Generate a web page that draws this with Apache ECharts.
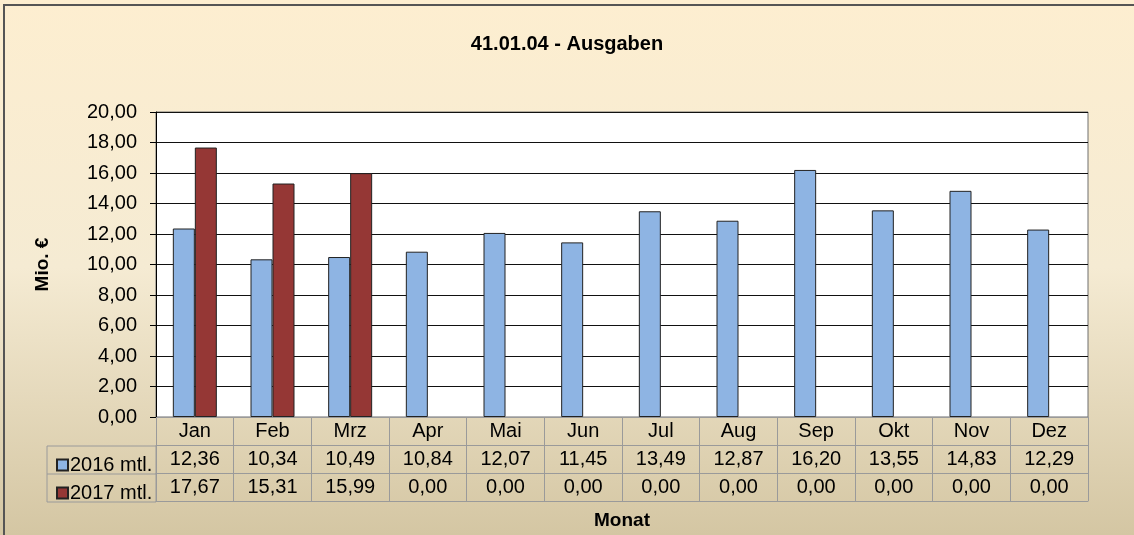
<!DOCTYPE html>
<html>
<head>
<meta charset="utf-8">
<script src="https://cdn.jsdelivr.net/npm/echarts@6/dist/echarts.min.js"></script>
<style>
  html, body { margin: 0; padding: 0; }
  #chart { width: 1134px; height: 535px; }
</style>
</head>
<body>
<div id="chart"></div>
<script>
// Monate und Werte (Mio. €)
const months = ['Jan', 'Feb', 'Mrz', 'Apr', 'Mai', 'Jun', 'Jul', 'Aug', 'Sep', 'Okt', 'Nov', 'Dez']
const data2016 = [12.36, 10.34, 10.49, 10.84, 12.07, 11.45, 13.49, 12.87, 16.20, 13.55, 14.83, 12.29]
const data2017 = [17.67, 15.31, 15.99, 0, 0, 0, 0, 0, 0, 0, 0, 0]
const seriesNames = ['2016 mtl.', '2017 mtl.']
const yTicks = { min: 0, max: 20, interval: 2 }

const font = 'Liberation Sans, Arial, sans-serif'
const tableLine = '#9a9a9a'

function fmt(v) {
  return v.toFixed(2).replace('.', ',')
}

// Nullwerte werden im Diagramm nicht gezeichnet, nur in der Tabelle
function barData(values) {
  return values.map(v => v === 0 ? '-' : v)
}

// eine Tabellenzeile als eigene x-Achse unter dem Diagramm
function tableAxis(offset, values) {
  return {
    type: 'category',
    data: months,
    position: 'bottom',
    offset: offset,
    axisLine: { show: true, lineStyle: { color: tableLine, width: 1 } },
    axisTick: { show: true, interval: 0, length: 28, lineStyle: { color: tableLine } },
    axisLabel: {
      show: true,
      interval: 0,
      margin: 4,
      color: '#000',
      fontFamily: font,
      fontSize: 20,
      formatter: (val, idx) => values ? fmt(values[idx]) : val
    },
    splitLine: { show: false }
  }
}

const chart = echarts.init(document.getElementById('chart'), null, { renderer: 'canvas' })

const option = {
  animation: false,
  backgroundColor: {
    type: 'linear', x: 0, y: 0, x2: 0, y2: 1,
    colorStops: [
      { offset: 0, color: '#fdeed0' },
      { offset: 0.5, color: '#f5ebd3' },
      { offset: 1, color: '#d4c6a3' }
    ]
  },
  title: {
    text: '41.01.04 - Ausgaben',
    left: 'center',
    top: 29,
    textStyle: { fontFamily: font, fontSize: 20, fontWeight: 'bold', color: '#000' }
  },
  legend: {
    orient: 'vertical',
    left: 51,
    top: 450,
    itemWidth: 11,
    itemHeight: 11,
    itemGap: 8,
    icon: 'rect',
    selectedMode: false,
    textStyle: { fontFamily: font, fontSize: 20, lineHeight: 20, color: '#000', padding: [0, 0, 0, -3] },
    data: seriesNames
  },
  grid: {
    left: 156,
    right: 46,
    top: 112,
    bottom: 117,
    show: true,
    backgroundColor: '#fff',
    borderColor: '#6e6e6e',
    borderWidth: 1,
    containLabel: false
  },
  xAxis: [
    tableAxis(0, null),
    tableAxis(28, data2016),
    tableAxis(56, data2017),
    {
      type: 'category',
      data: months,
      position: 'bottom',
      offset: 84,
      axisLine: { show: true, lineStyle: { color: tableLine } },
      axisTick: { show: false },
      axisLabel: { show: false },
      name: 'Monat',
      nameLocation: 'middle',
      nameGap: 10,
      nameTextStyle: { fontFamily: font, fontSize: 19, fontWeight: 'bold', color: '#000' }
    }
  ],
  yAxis: {
    type: 'value',
    min: yTicks.min,
    max: yTicks.max,
    interval: yTicks.interval,
    name: 'Mio. €',
    nameLocation: 'middle',
    nameRotate: 90,
    nameGap: 104,
    nameTextStyle: { fontFamily: font, fontSize: 19, fontWeight: 'bold', color: '#000' },
    axisLine: { show: true, lineStyle: { color: '#000' } },
    axisTick: { show: true, length: 6, lineStyle: { color: '#000' } },
    axisLabel: {
      margin: 19,
      color: '#000',
      fontFamily: font,
      fontSize: 20,
      formatter: v => fmt(v)
    },
    splitLine: { show: true, lineStyle: { color: '#111', width: 1 } }
  },
  series: [
    {
      name: seriesNames[0],
      type: 'bar',
      xAxisIndex: 0,
      data: barData(data2016),
      barWidth: 22,
      barGap: '0%',
      itemStyle: { color: '#8eb4e3', borderColor: '#222', borderWidth: 1 }
    },
    {
      name: seriesNames[1],
      type: 'bar',
      xAxisIndex: 0,
      data: barData(data2017),
      barWidth: 22,
      barGap: '0%',
      itemStyle: { color: '#953735', borderColor: '#222', borderWidth: 1 }
    }
  ],
  graphic: [
    // Rahmen des Diagramms
    {
      type: 'rect',
      shape: { x: 4, y: 5, width: 1140, height: 540 },
      style: { fill: null, stroke: '#555', lineWidth: 2 },
      silent: true
    },
    // linke Spalte der Datentabelle (Legende)
    {
      type: 'rect',
      shape: { x: 47, y: 446, width: 109, height: 56 },
      style: { fill: null, stroke: tableLine, lineWidth: 1 },
      silent: true
    },
    {
      type: 'line',
      shape: { x1: 47, y1: 474, x2: 156, y2: 474 },
      style: { stroke: tableLine, lineWidth: 1 },
      silent: true
    }
  ]
}

chart.setOption(option)
</script>
</body>
</html>
